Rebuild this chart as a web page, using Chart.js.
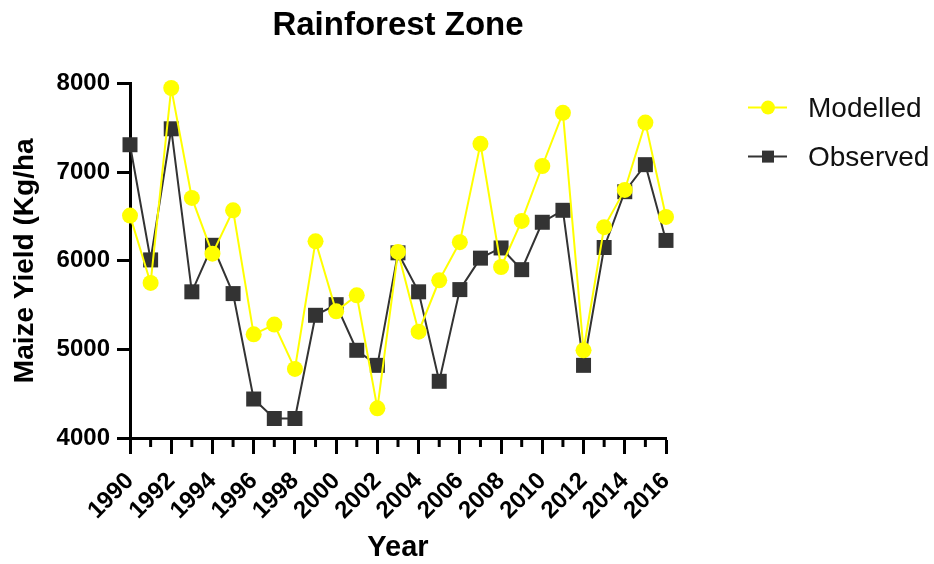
<!DOCTYPE html>
<html>
<head>
<meta charset="utf-8">
<script src="https://cdn.jsdelivr.net/npm/chart.js@4/dist/chart.umd.min.js"></script>
<style>
  html, body { margin: 0; padding: 0; background: #fff; }
  #wrap { width: 934px; height: 564px; }
</style>
</head>
<body>
<div id="wrap"><canvas id="c"></canvas></div>
<script>
// Annual maize yield, rainforest zone (Kg/ha)
const years = [1990, 1991, 1992, 1993, 1994, 1995, 1996, 1997, 1998, 1999,
               2000, 2001, 2002, 2003, 2004, 2005, 2006, 2007, 2008, 2009,
               2010, 2011, 2012, 2013, 2014, 2015, 2016];
const modelled = [6510, 5750, 7950, 6710, 6080, 6570, 5170, 5280, 4780, 6220,
                  5430, 5610, 4335, 6100, 5200, 5780, 6210, 7320, 5930, 6450,
                  7070, 7670, 4990, 6380, 6800, 7560, 6495];
const observed = [7310, 6010, 7490, 5650, 6175, 5630, 4440, 4220, 4220, 5385,
                  5505, 4990, 4820, 6090, 5650, 4640, 5675, 6030, 6145, 5900,
                  6435, 6570, 4820, 6150, 6780, 7085, 6230];
const yTickValues = [4000, 5000, 6000, 7000, 8000];
const xLabelYears = [1990, 1992, 1994, 1996, 1998, 2000, 2002, 2004, 2006, 2008,
                     2010, 2012, 2014, 2016];

const FONT = "'Liberation Sans', Arial, Helvetica, sans-serif";
const YELLOW = '#FFFF00';
const DARK = '#333333';

// short ticks on the years that carry no label
const minorTicks = {
  id: 'minorTicks',
  afterDraw(chart) {
    const xs = chart.scales.x;
    const ctx = chart.ctx;
    ctx.save();
    ctx.strokeStyle = '#000';
    ctx.lineWidth = 3;
    years.filter(y => !xLabelYears.includes(y)).forEach(y => {
      const px = xs.getPixelForValue(y);
      ctx.beginPath();
      ctx.moveTo(px, xs.top);
      ctx.lineTo(px, xs.top + 9);
      ctx.stroke();
    });
    ctx.restore();
  }
};

// legend: line segment with marker, then the series name
const sideLegend = {
  id: 'sideLegend',
  afterDraw(chart) {
    const ctx = chart.ctx;
    const area = chart.chartArea;
    const x0 = area.right + 82;
    ctx.save();
    chart.data.datasets.forEach((ds, i) => {
      const y = area.top + 24 + i * 49;
      ctx.strokeStyle = ds.borderColor;
      ctx.lineWidth = 2;
      ctx.beginPath();
      ctx.moveTo(x0, y);
      ctx.lineTo(x0 + 39, y);
      ctx.stroke();
      ctx.fillStyle = ds.backgroundColor;
      const cx = x0 + 20;
      if (ds.pointStyle === 'circle') {
        ctx.beginPath();
        ctx.arc(cx, y, 7, 0, Math.PI * 2);
        ctx.fill();
      } else {
        ctx.fillRect(cx - 6, y - 6, 12, 12);
      }
      ctx.fillStyle = '#111';
      ctx.font = '28px ' + FONT;
      ctx.textBaseline = 'middle';
      ctx.textAlign = 'left';
      ctx.fillText(ds.label, x0 + 60, y + 2);
    });
    ctx.restore();
  }
};

new Chart(document.getElementById('c'), {
  type: 'line',
  data: {
    datasets: [
      {
        label: 'Modelled',
        data: years.map((y, i) => ({ x: y, y: modelled[i] })),
        borderColor: YELLOW,
        backgroundColor: YELLOW,
        borderWidth: 2,
        pointStyle: 'circle',
        pointRadius: 8,
        pointBorderWidth: 0,
        pointBackgroundColor: YELLOW,
        tension: 0,
        clip: false
      },
      {
        label: 'Observed',
        data: years.map((y, i) => ({ x: y, y: observed[i] })),
        borderColor: DARK,
        backgroundColor: DARK,
        borderWidth: 2,
        pointStyle: 'rect',
        pointRadius: 10.6,
        pointBorderWidth: 0,
        pointBackgroundColor: DARK,
        tension: 0,
        clip: false
      }
    ]
  },
  options: {
    responsive: true,
    maintainAspectRatio: false,
    animation: false,
    devicePixelRatio: 1,
    layout: { padding: { left: 0, right: 268, top: 0, bottom: 0 } },
    plugins: {
      legend: { display: false },
      tooltip: { enabled: false },
      title: {
        display: true,
        text: 'Rainforest Zone',
        fullSize: false,
        color: '#000',
        font: { family: FONT, size: 33, weight: 'bold' },
        padding: { top: 6, bottom: 38 }
      }
    },
    scales: {
      x: {
        type: 'linear',
        min: years[0],
        max: years[years.length - 1],
        afterBuildTicks: s => { s.ticks = years.map(v => ({ value: v })); },
        afterFit: s => { s.height = 126; },
        ticks: {
          autoSkip: false,
          maxRotation: 45,
          minRotation: 45,
          padding: 13,
          color: '#000',
          font: { family: FONT, size: 24, weight: 'bold' },
          callback: v => xLabelYears.includes(v) ? String(v) : ''
        },
        grid: {
          drawOnChartArea: false,
          tickLength: 16,
          tickWidth: 3,
          tickColor: c => (c.tick && xLabelYears.includes(c.tick.value)) ? '#000' : 'rgba(0,0,0,0)'
        },
        border: { color: '#000', width: 3 },
        title: {
          display: true,
          text: 'Year',
          color: '#000',
          font: { family: FONT, size: 29, weight: 'bold', lineHeight: 1.1 },
          padding: { top: 0, bottom: 0 }
        }
      },
      y: {
        min: yTickValues[0],
        max: yTickValues[yTickValues.length - 1],
        afterBuildTicks: s => { s.ticks = yTickValues.map(v => ({ value: v })); },
        afterFit: s => { s.width = 130; },
        ticks: {
          padding: 7,
          color: '#000',
          font: { family: FONT, size: 24, weight: 'bold' },
          callback: v => String(v)
        },
        grid: {
          drawOnChartArea: false,
          tickLength: 13,
          tickWidth: 3,
          tickColor: '#000'
        },
        border: { color: '#000', width: 3 },
        title: {
          display: true,
          text: 'Maize Yield (Kg/ha',
          color: '#000',
          font: { family: FONT, size: 28, weight: 'bold' },
          padding: { top: 8, bottom: 0 }
        }
      }
    }
  },
  plugins: [minorTicks, sideLegend]
});
</script>
</body>
</html>
